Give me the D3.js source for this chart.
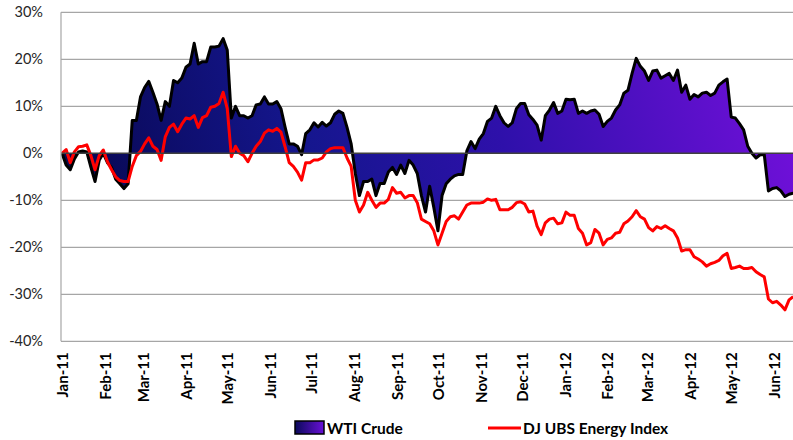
<!DOCTYPE html>
<html><head><meta charset="utf-8">
<script src="https://cdn.jsdelivr.net/npm/d3@7"></script>
<style>html,body{margin:0;padding:0;background:#fff;overflow:hidden}</style>
</head><body><svg id="c" width="793" height="440"></svg>
<script>
const dates = ["2011-01-01","2011-01-04","2011-01-07","2011-01-10","2011-01-13","2011-01-16","2011-01-19","2011-01-22","2011-01-25","2011-01-28","2011-01-31","2011-02-03","2011-02-06","2011-02-09","2011-02-12","2011-02-15","2011-02-18","2011-02-21","2011-02-24","2011-02-27","2011-03-02","2011-03-05","2011-03-08","2011-03-11","2011-03-14","2011-03-17","2011-03-20","2011-03-23","2011-03-26","2011-03-29","2011-04-01","2011-04-04","2011-04-07","2011-04-10","2011-04-13","2011-04-16","2011-04-19","2011-04-22","2011-04-25","2011-04-28","2011-05-01","2011-05-04","2011-05-07","2011-05-10","2011-05-13","2011-05-16","2011-05-19","2011-05-22","2011-05-25","2011-05-28","2011-05-31","2011-06-03","2011-06-06","2011-06-09","2011-06-12","2011-06-15","2011-06-18","2011-06-21","2011-06-24","2011-06-27","2011-06-30","2011-07-03","2011-07-06","2011-07-09","2011-07-12","2011-07-15","2011-07-18","2011-07-21","2011-07-24","2011-07-27","2011-07-30","2011-08-02","2011-08-05","2011-08-08","2011-08-11","2011-08-14","2011-08-17","2011-08-20","2011-08-23","2011-08-26","2011-08-29","2011-09-01","2011-09-04","2011-09-07","2011-09-10","2011-09-13","2011-09-16","2011-09-19","2011-09-22","2011-09-25","2011-09-28","2011-10-01","2011-10-04","2011-10-07","2011-10-10","2011-10-13","2011-10-16","2011-10-19","2011-10-22","2011-10-25","2011-10-28","2011-10-31","2011-11-03","2011-11-06","2011-11-09","2011-11-12","2011-11-15","2011-11-18","2011-11-21","2011-11-24","2011-11-27","2011-11-30","2011-12-03","2011-12-06","2011-12-09","2011-12-12","2011-12-15","2011-12-18","2011-12-21","2011-12-24","2011-12-27","2011-12-30","2012-01-02","2012-01-05","2012-01-08","2012-01-11","2012-01-14","2012-01-17","2012-01-20","2012-01-23","2012-01-26","2012-01-29","2012-02-01","2012-02-04","2012-02-07","2012-02-10","2012-02-13","2012-02-16","2012-02-19","2012-02-22","2012-02-25","2012-02-28","2012-03-02","2012-03-05","2012-03-08","2012-03-11","2012-03-14","2012-03-17","2012-03-20","2012-03-23","2012-03-26","2012-03-29","2012-04-01","2012-04-04","2012-04-07","2012-04-10","2012-04-13","2012-04-16","2012-04-19","2012-04-22","2012-04-25","2012-04-28","2012-05-01","2012-05-04","2012-05-07","2012-05-10","2012-05-13","2012-05-16","2012-05-19","2012-05-22","2012-05-25","2012-05-28","2012-05-31","2012-06-03","2012-06-06","2012-06-09","2012-06-12","2012-06-15"];

// WTI Crude, % change
const wti = [0,-2.5,-3.5,-1.2,0.3,0.5,0.3,-3,-6,-1.5,0,-2,-3,-5.5,-6.5,-7.5,-6.5,7,7,12,14,15.3,13,10.5,7,11,10,15.5,15,16,18.3,19,23.4,19,19.5,19.5,22.6,22.6,22.8,24.4,22,7.5,10,8,8,7.5,8,10.3,10.5,12,10.5,10.5,11,9.5,5.6,2,2,1.5,-0.3,4.2,5,6.5,5.6,6.6,5.8,6.5,8.3,9,8.5,5.5,2,-4.3,-9,-6,-6,-5.5,-9,-6.4,-6.4,-4,-3,-4.5,-2.5,-4.3,-1.5,-2.5,-4.3,-9,-12.5,-7,-11.5,-16.5,-9,-6.5,-5.5,-4.8,-4.5,-4.5,0.5,2.5,1,3,4.2,6.8,7.5,10,8,6.5,5.7,6.5,9.5,10.6,10.6,8.2,7.2,6,2.8,8,9.2,10.8,8.5,9,11.5,11.4,11.5,8.5,9,8.5,9,9.2,8.3,5.7,6.8,7.5,9.2,10.3,12.8,13.4,17,20.2,18.5,17.5,15.5,17.5,17.7,16,16.5,17,15.5,17.7,13,14.5,11.5,12.5,12,12.8,13,12.3,12.8,14.5,15.2,15.8,7.7,7.5,6.3,5,1.5,0,-1,-0.3,-0.3,-8,-7.5,-7.3,-8,-9.2,-8.7,-8.5];

// DJ UBS Energy Index, % change
const djubs = [0,0.8,-2,0.3,1.4,1.5,1.8,-0.5,-3.5,-0.5,0.7,-1.8,-3.5,-5,-5.8,-6,-6,-2.8,-0.5,0.4,2,3.3,1.5,0.8,-1.5,3.5,5.5,6.2,4.6,6.2,7.5,7.3,8,5.5,7.6,8,9.8,10,10.6,13,9.5,-0.7,1.5,0,-0.5,-1.8,0,1.5,2.5,4.3,5,4.7,5.3,4.5,1.4,-2,-2.8,-4,-5.7,-2,-2,-1.4,-1.4,-1,0.3,1,1.2,1.2,1.2,-1,-2.8,-10,-12.5,-11,-8.3,-10,-11.5,-10.6,-10.6,-9.8,-7.3,-8.5,-8.3,-9.5,-9,-9,-10.5,-14,-14.5,-15,-16.5,-19.5,-17,-14.5,-13.5,-13.3,-14,-12.5,-11,-10.6,-10.6,-10.6,-10.4,-9.7,-10,-9.8,-12,-12,-12,-11.5,-10.5,-10.3,-10.8,-12.5,-12.3,-15.5,-17.3,-14.8,-14,-13.8,-15,-14.8,-12.5,-13.2,-13.2,-16,-17,-19.5,-19,-16.2,-17,-19.5,-18.3,-18,-17,-16.8,-15,-14.4,-13.5,-12.2,-13.5,-14,-15.8,-16.5,-15.6,-16,-15.4,-16,-16.5,-18,-20.8,-20.5,-20.5,-22,-22.5,-23.1,-24,-23.5,-23.2,-22.8,-21.8,-21.3,-24.5,-24.3,-24,-24.5,-24.5,-24.3,-25.2,-25.8,-26.3,-31,-31.8,-31.5,-32.3,-33.3,-31.2,-30.5];

const yTicks = [30,20,10,0,-10,-20,-30,-40];
const monthLabels = ["Jan-11","Feb-11","Mar-11","Apr-11","May-11","Jun-11","Jul-11","Aug-11","Sep-11","Oct-11","Nov-11","Dec-11","Jan-12","Feb-12","Mar-12","Apr-12","May-12","Jun-12"];
const seriesNames = ["WTI Crude","DJ UBS Energy Index"];

const parse = d3.timeParse("%Y-%m-%d");
const data = dates.map((d,i)=>({date:parse(d), w:wti[i], r:djubs[i]}));

const svg = d3.select("#c");
const L = 61, R = 793, T = 12.3, B = 341.3;
const x = d3.scaleTime().domain([parse("2011-01-01"), parse("2012-06-15")]).range([62, 793.2]);
const y = d3.scaleLinear().domain([-40,30]).range([B, T]);
const FONT = "Lato, 'Open Sans', sans-serif";

const defs = svg.append("defs");
const grad = defs.append("linearGradient").attr("id","g").attr("gradientUnits","userSpaceOnUse")
  .attr("x1",62).attr("y1",250).attr("x2",793).attr("y2",60);
[[0,"#06064a"],[0.35,"#15168e"],[0.6,"#2e10aa"],[1,"#7410dc"]].forEach(s=>grad.append("stop").attr("offset",s[0]).attr("stop-color",s[1]));
const lg = defs.append("linearGradient").attr("id","lg").attr("x1",0).attr("x2",1).attr("y1",0).attr("y2",0);
[[0,"#0a0a5a"],[1,"#6a10d8"]].forEach(s=>lg.append("stop").attr("offset",s[0]).attr("stop-color",s[1]));
defs.append("clipPath").attr("id","clip").append("rect").attr("x",L).attr("y",0).attr("width",R-L).attr("height",B+2);

// gridlines
svg.append("g").selectAll("line").data(yTicks.filter(t=>t!==0)).join("line")
  .attr("x1",L).attr("x2",R).attr("y1",d=>y(d)).attr("y2",d=>y(d))
  .attr("stroke","#a6a6a6").attr("stroke-width",1.2);

// y labels
svg.append("g").selectAll("text").data(yTicks).join("text")
  .attr("x",43).attr("y",d=>y(d)+5).attr("text-anchor","end")
  .attr("font-family",FONT).attr("font-size",14.5).attr("fill","#262626")
  .text(d=>d+"%");

const plot = svg.append("g").attr("clip-path","url(#clip)");
plot.append("path").datum(data)
  .attr("d", d3.area().x(d=>x(d.date)).y0(y(0)).y1(d=>y(d.w)))
  .attr("fill","url(#g)");

// zero line
svg.append("line").attr("x1",L).attr("x2",R).attr("y1",y(0)).attr("y2",y(0))
  .attr("stroke","#404040").attr("stroke-width",1.5);
// left axis
svg.append("line").attr("x1",L).attr("x2",L).attr("y1",T).attr("y2",B)
  .attr("stroke","#a6a6a6").attr("stroke-width",1.2);

plot.append("path").datum(data)
  .attr("d", d3.line().x(d=>x(d.date)).y(d=>y(d.w)))
  .attr("fill","none").attr("stroke","#000").attr("stroke-width",3).attr("stroke-linejoin","round");
plot.append("path").datum(data)
  .attr("d", d3.line().x(d=>x(d.date)).y(d=>y(d.r)))
  .attr("fill","none").attr("stroke","#ff0000").attr("stroke-width",3).attr("stroke-linejoin","round");

// x labels
const months = d3.timeMonth.range(parse("2011-01-01"), parse("2012-06-02"));
const xAxis = d3.axisBottom(x).tickValues(months).tickSize(0).tickFormat((d,i)=>monthLabels[i]);
const xg = svg.append("g").attr("transform",`translate(0,${B})`).call(xAxis);
xg.select(".domain").remove();
xg.selectAll("text")
  .attr("font-family",FONT).attr("font-size",15).attr("font-weight","bold").attr("fill","#000")
  .attr("text-anchor","end").attr("dy",null).attr("y",0)
  .attr("transform","translate(5.5,11) rotate(-90)");

// legend
const leg = svg.append("g");
leg.append("rect").attr("x",295).attr("y",421).attr("width",29).attr("height",13)
  .attr("fill","url(#lg)").attr("stroke","#000").attr("stroke-width",1.5);
leg.append("text").attr("x",327).attr("y",433.5).attr("font-family",FONT)
  .attr("font-size",15.5).attr("font-weight","bold").text(seriesNames[0]);
leg.append("line").attr("x1",488).attr("x2",521).attr("y1",428).attr("y2",428).attr("stroke","#ff0000").attr("stroke-width",3);
leg.append("text").attr("x",523).attr("y",433.5).attr("font-family",FONT)
  .attr("font-size",15.5).attr("font-weight","bold").text(seriesNames[1]);
</script></body></html>
